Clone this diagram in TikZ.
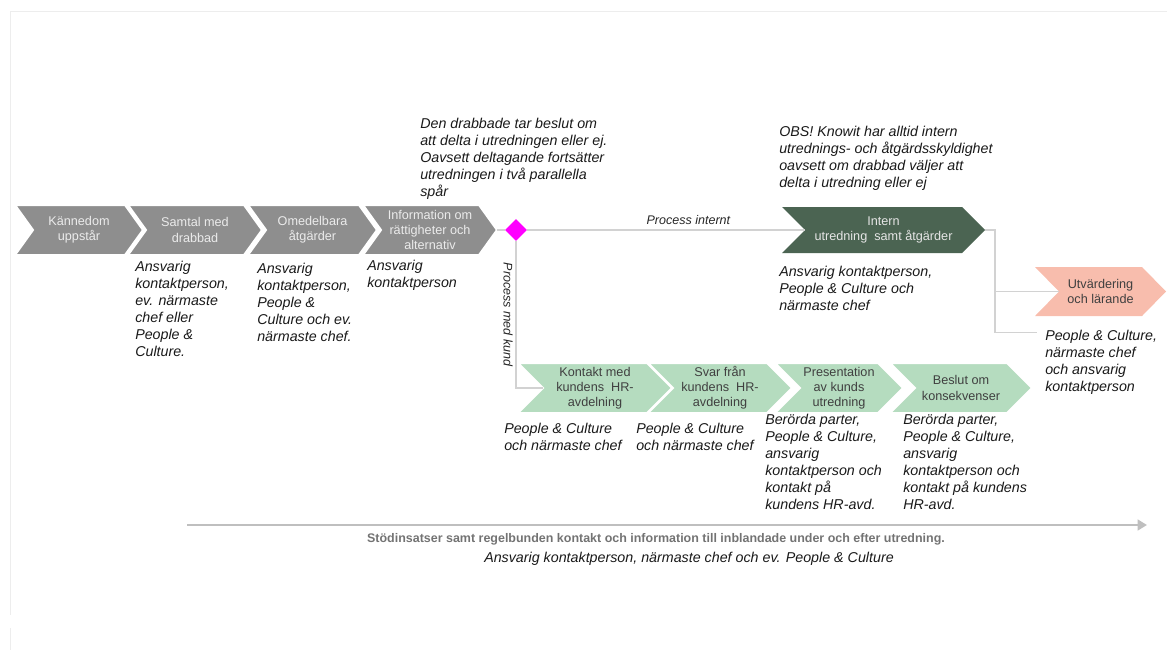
\documentclass[tikz,border=0pt]{standalone}
\usepackage{fontspec}
\setmainfont{Liberation Sans}
\usetikzlibrary{shapes.geometric,arrows.meta}

\definecolor{chevgray}{HTML}{8E8E8E}
\definecolor{mint}{HTML}{B5DCBF}
\definecolor{forest}{HTML}{4B6452}
\definecolor{salmon}{HTML}{F8BDAD}
\definecolor{linegray}{HTML}{D2D2D2}
\definecolor{pinkdot}{RGB}{255,0,255}

% chevron: name, left, tip, top, bottom, depth, style, text
\newcommand\chevron[8]{%
  \path[#7] (#2,#4) -- (#3-#6,#4) -- (#3,{(#4+#5)/2}) -- (#3-#6,#5) -- (#2,#5) -- (#2+#6,{(#4+#5)/2}) -- cycle;
  \node[#7 text] (#1) at ({(#2+#3)/2},{(#4+#5)/2}) {#8};
  \coordinate (#1 tip) at (#3,{(#4+#5)/2});
  \coordinate (#1 notch) at (#2+#6,{(#4+#5)/2});
}

\begin{document}
\begin{tikzpicture}[x=0.75pt, y=-0.75pt,
    grayc/.style = {fill=chevgray, draw=white, line width=1.5pt},
    grayc text/.style = {text=white!92!black, font=\fontsize{9.5}{11.3}\selectfont, align=center, inner sep=0},
    mintc/.style = {fill=mint, draw=white, line width=1.5pt},
    mintc text/.style = {text=black!75, font=\fontsize{9.5}{11.3}\selectfont, align=center, inner sep=0},
    internc/.style = {fill=forest},
    internc text/.style = {text=white!90!black, font=\fontsize{9.5}{11.3}\selectfont, align=center, inner sep=0},
    utvc/.style = {fill=salmon},
    utvc text/.style = {text=black!75, font=\fontsize{9.5}{11.3}\selectfont, align=center, inner sep=0},
    note/.style = {font=\itshape\fontsize{10.7}{12.8}\selectfont, align=left, anchor=north west, inner sep=0, text=black!90},
    flowlabel/.style = {font=\itshape\fontsize{9.4}{11}\selectfont, text=black!85},
    conn/.style = {draw=linegray, line width=0.8pt},
    support/.style = {draw=black!25, line width=2.2pt, -{Triangle[length=7pt, width=8pt]}}]
  \useasboundingbox (0,0) rectangle (1167,650);
  \draw[black!7] (10,615) -- (10,11) -- (1167,11);
  \draw[black!7] (10,628) -- (10,650);

  % first track
  \chevron{c1}{15}{143}{205}{255}{18}{grayc}{Kännedom\\uppstår}
  \chevron{c2}{128}{262}{205}{255}{18}{grayc}{Samtal med\\drabbad}
  \chevron{c3}{248}{377}{205}{255}{18}{grayc}{Omedelbara\\åtgärder}
  \chevron{c4}{363}{497}{205}{255}{18}{grayc}{Information om\\rättigheter och\\alternativ}
  \node[diamond, fill=pinkdot, minimum width=16.5pt, minimum height=16.5pt, inner sep=0] (split) at (516,230) {};

  % internal and customer track
  \chevron{intern}{782}{985}{207}{253}{23}{internc}{Intern\\utredning\ \ samt åtgärder}
  \chevron{utv}{1035}{1166}{267}{316}{24}{utvc}{Utvärdering\\och lärande}
  \chevron{k1}{518}{672}{363}{413}{25}{mintc}{Kontakt med\\kundens\ \ HR-\\avdelning}
  \chevron{k2}{648}{792}{363}{413}{25}{mintc}{Svar från\\kundens\ \ HR-\\avdelning}
  \chevron{k3}{775}{903}{363}{413}{25}{mintc}{Presentation\\av kunds\\utredning}
  \chevron{k4}{890}{1032}{363}{413}{25}{mintc}{Beslut om\\konsekvenser}

  % notes
  \node[note] (resp1) at (135,261) {Ansvarig\\kontaktperson,\\ev. närmaste\\chef eller\\People \&\\Culture.};
  \node[note] (resp2) at (257,263) {Ansvarig\\kontaktperson,\\People \&\\Culture och ev.\\närmaste chef.};
  \node[note] (resp3) at (367,260) {Ansvarig\\kontaktperson};
  \node[note] (decision) at (420,118) {Den drabbade tar beslut om\\att delta i utredningen eller ej.\\Oavsett deltagande fortsätter\\utredningen i två parallella\\spår};
  \node[note] (obs) at (779,126) {OBS! Knowit har alltid intern\\utrednings- och åtgärdsskyldighet\\oavsett om drabbad väljer att\\delta i utredning eller ej};
  \node[note] (resp intern) at (779,266) {Ansvarig kontaktperson,\\People \& Culture och\\närmaste chef};
  \node[note] (resp utv) at (1045,330) {People \& Culture,\\närmaste chef\\och ansvarig\\kontaktperson};
  \node[note] (resp k1) at (504,423) {People \& Culture\\och närmaste chef};
  \node[note] (resp k2) at (636,423) {People \& Culture\\och närmaste chef};
  \node[note] (resp k3) at (765,414) {Berörda parter,\\People \& Culture,\\ansvarig\\kontaktperson och\\kontakt på\\kundens HR-avd.};
  \node[note] (resp k4) at (903,414) {Berörda parter,\\People \& Culture,\\ansvarig\\kontaktperson och\\kontakt på kundens\\HR-avd.};

  % connectors
  \draw[conn] (c4 tip) -- (split);
  \draw[conn] (split) -- node[flowlabel, above, pos=0.58] (internlabel) {Process internt} (intern notch);
  \draw[conn] (split) |- node[flowlabel, rotate=-90, anchor=north, inner sep=2pt, pos=0.25] (kundlabel) {Process med kund} (k1 notch);
  \draw[conn] (intern tip) -- ++(10,0) |- (utv notch);
  \draw[conn] (intern tip) -- ++(10,0) |- ([xshift=-6pt, yshift=-2pt]resp utv.north west);

  % support
  \coordinate (sup start) at (187,525);
  \coordinate (sup end) at (1147,525);
  \draw[support] (sup start) -- (sup end);
  \node[font=\bfseries\fontsize{9.35}{11}\selectfont, text=black!55] (support) at (656,539) {Stödinsatser samt regelbunden kontakt och information till inblandade under och efter utredning.};
  \node[note, anchor=center] (support resp) at (689,559) {Ansvarig kontaktperson, närmaste chef och ev. People \& Culture};
\end{tikzpicture}
\end{document}
